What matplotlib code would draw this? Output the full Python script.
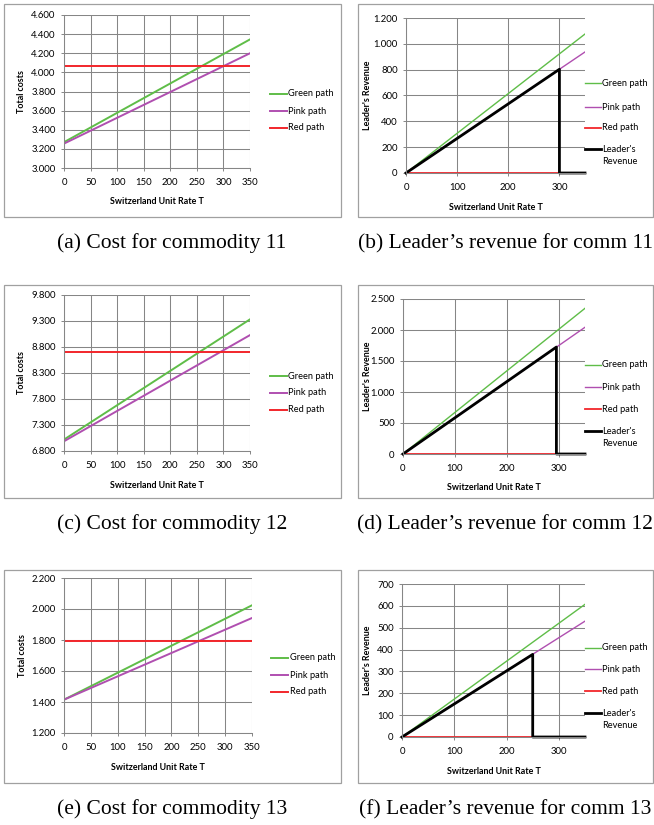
import numpy as np
import matplotlib

matplotlib.use("Agg")
import matplotlib.pyplot as plt
from matplotlib.lines import Line2D
from matplotlib.patches import Rectangle
from matplotlib.ticker import FuncFormatter

W, H = 654, 825

# Switzerland unit rate T at the two ends of every series
rate = [0, 350]

# total costs per path (commodities 11, 12, 13)
cost11_green = [3270, 4345]
cost11_pink = [3255, 4200]
cost11_red = [4065, 4065]

cost12_green = [7020, 9332]
cost12_pink = [6987, 9029]
cost12_red = [8707, 8707]

cost13_green = [1415, 2024]
cost13_pink = [1415, 1942]
cost13_red = [1792, 1792]

# leader's revenue per path
rev11_green = [0, 1076]
rev11_pink = [0, 937]
rev11_red = [0, 0]
rev11_leader_rate = [0, 300, 300, 350]
rev11_leader = [0, 803, 0, 0]

rev12_green = [0, 2350]
rev12_pink = [0, 2044]
rev12_red = [0, 0]
rev12_leader_rate = [0, 295, 295, 350]
rev12_leader = [0, 1725, 0, 0]

rev13_green = [0, 607]
rev13_pink = [0, 530]
rev13_red = [0, 0]
rev13_leader_rate = [0, 250, 250, 350]
rev13_leader = [0, 378, 0, 0]

GREEN = "#5fbd48"
PINK = "#b04fb0"
RED = "#f2262b"
GRID = "#868686"
BOX = "#a0a0a0"

TICK_FS = 6.9
LABEL_FS = 6.4
LEG_FS = 6.7

plt.rcParams["font.family"] = ["Lato", "DejaVu Sans"]

fig = plt.figure(figsize=(W / 100, H / 100), dpi=100)


def fx(x):
    return x / W


def fy(y):
    return 1 - y / H


def thousands(v, pos):
    return f"{int(round(v)):,}".replace(",", ".")


def chart_box(l, t, r, b):
    fig.add_artist(Rectangle((fx(l), fy(b)), (r - l) / W, (b - t) / H,
                             transform=fig.transFigure, fill=False,
                             edgecolor=BOX, lw=0.9))


def make_axes(plot, ylim, ystep, xstep, ylabel, ylabel_x, xlabel_y):
    l, t, r, b = plot
    ax = fig.add_axes([fx(l), fy(b), (r - l) / W, (b - t) / H])
    ax.set_xlim(0, 350)
    ax.set_ylim(*ylim)
    ax.set_xticks(np.arange(0, 351, xstep))
    ax.set_yticks(np.arange(ylim[0], ylim[1] + 1, ystep))
    ax.yaxis.set_major_formatter(FuncFormatter(thousands))
    ax.grid(True, color=GRID, lw=0.75)
    ax.set_axisbelow(True)
    for s in ("top", "right"):
        ax.spines[s].set_visible(False)
    for s in ("left", "bottom"):
        ax.spines[s].set_color(GRID)
        ax.spines[s].set_linewidth(0.75)
    ax.tick_params(direction="out", length=2.5, width=0.7, color=GRID,
                   labelsize=TICK_FS)
    ax.tick_params(axis="x", pad=5.0)
    ax.tick_params(axis="y", pad=3.5)
    ax.set_xlabel("Switzerland Unit Rate T", fontsize=LABEL_FS, fontweight="bold")
    ax.set_ylabel(ylabel, fontsize=LABEL_FS, fontweight="bold")
    ax.xaxis.label.set_va("center")
    ax.yaxis.label.set_va("center")
    ax.xaxis.set_label_coords(0.5, -(xlabel_y - b) / (b - t))
    ax.yaxis.set_label_coords(-(l - ylabel_x) / (r - l), 0.5)
    return ax


def key(x0, x1, y, color, lw, label):
    fig.add_artist(Line2D([fx(x0), fx(x1)], [fy(y), fy(y)], color=color, lw=lw))
    fig.text(fx(x1 + 1.5), fy(y), label, fontsize=LEG_FS, ha="left", va="center")


def caption(x, y, s):
    fig.text(fx(x), fy(y), s, fontsize=15.5, family="Liberation Serif",
             ha="center", va="baseline")


def cost_panel(dy, plot, ylim, ystep, green, pink, red, key_x, key_y, cap):
    chart_box(4, 4 + dy, 341, 217 + dy)
    ax = make_axes(plot, ylim, ystep, 50, "Total costs", 22, plot[3] + 34)
    ax.plot(rate, green, color=GREEN, lw=1.4)
    ax.plot(rate, pink, color=PINK, lw=1.4)
    ax.plot(rate, red, color=RED, lw=1.4)
    k0, k1 = key_x
    key(k0, k1, key_y[0], GREEN, 1.4, "Green path")
    key(k0, k1, key_y[1], PINK, 1.4, "Pink path")
    key(k0, k1, key_y[2], RED, 1.4, "Red path")
    caption(172, 248 + dy, cap)


def revenue_panel(dy, plot, ylim, ystep, green, pink, red, lead_rate, lead,
                  key_y, cap):
    chart_box(358, 4 + dy, 653, 217 + dy)
    ax = make_axes(plot, ylim, ystep, 100, "Leader's Revenue", 367, plot[3] + 34)
    ax.plot(rate, green, color=GREEN, lw=1.0)
    ax.plot(rate, pink, color=PINK, lw=1.0)
    ax.plot(rate, red, color=RED, lw=1.3)
    ax.plot(lead_rate, lead, color="black", lw=2.0, clip_on=False)
    key(585, 601, key_y[0], GREEN, 1.0, "Green path")
    key(585, 601, key_y[1], PINK, 1.0, "Pink path")
    key(585, 601, key_y[2], RED, 1.3, "Red path")
    key(585, 601, key_y[3], "black", 2.0, "Leader's")
    fig.text(fx(602.5), fy(key_y[3] + 12), "Revenue", fontsize=LEG_FS,
             ha="left", va="center")
    caption(505, 248 + dy, cap)


cost_panel(0, (64, 15, 250, 168), (3000, 4600), 200,
           cost11_green, cost11_pink, cost11_red,
           (270, 287), (94, 111, 128), "(a) Cost for commodity 11")
revenue_panel(0, (406, 18, 585, 173), (0, 1200), 200,
              rev11_green, rev11_pink, rev11_red, rev11_leader_rate, rev11_leader,
              (83, 107, 128, 149), "(b) Leader\u2019s revenue for comm 11")

cost_panel(281, (64, 295, 250, 451), (6800, 9800), 500,
           cost12_green, cost12_pink, cost12_red,
           (270, 287), (376, 393, 410), "(c) Cost for commodity 12")
revenue_panel(281, (403, 299, 585, 454), (0, 2500), 500,
              rev12_green, rev12_pink, rev12_red, rev12_leader_rate, rev12_leader,
              (365, 387, 409, 431), "(d) Leader\u2019s revenue for comm 12")

cost_panel(566, (64, 578, 252, 733), (1200, 2200), 200,
           cost13_green, cost13_pink, cost13_red,
           (271, 288), (658, 675, 692), "(e) Cost for commodity 13")
revenue_panel(566, (402, 584, 585, 737), (0, 700), 100,
              rev13_green, rev13_pink, rev13_red, rev13_leader_rate, rev13_leader,
              (648, 669, 691, 713), "(f) Leader\u2019s revenue for comm 13")

fig.savefig("out.png", dpi=100)
